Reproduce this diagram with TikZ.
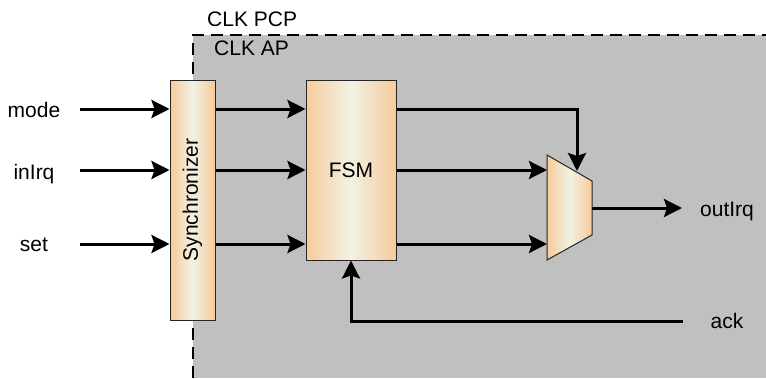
\documentclass[tikz,border=0pt]{standalone}
\usepackage{fontspec}
\setmainfont{Liberation Sans}
\usetikzlibrary{arrows.meta,calc}

\definecolor{peach}{RGB}{248,202,155}
\definecolor{cream}{RGB}{241,242,228}
\definecolor{panel}{RGB}{192,192,192}

\tikzset{
  lbl/.style={font=\fontsize{21}{25}\selectfont, inner sep=0pt},
  block/.style={draw=black!85, line width=1pt, left color=peach, right color=peach,
                middle color=cream, inner sep=0pt},
  wire/.style={line width=3pt, -{Stealth[length=18pt,width=18pt,inset=3pt]}},
  clkborder/.style={line width=2.5pt, dash pattern=on 12pt off 7pt},
}

\begin{document}
\begin{tikzpicture}[x=1pt,y=-1pt]
\useasboundingbox (0,0) rectangle (766,378);

% AP clock domain
\fill[panel] (193,35) rectangle (766,378);
\draw[clkborder] (193,378) -- (193,35) -- (766,35);
\node[lbl, anchor=base west] (pcp) at (207,26) {CLK PCP};
\node[lbl, anchor=base west] (ap) at (214,55) {CLK AP};

% signal rows
\coordinate (rowA) at (80,109);
\coordinate (rowB) at (80,170);
\coordinate (rowC) at (80,244);

% inputs
\node[lbl, anchor=base] (mode) at (34,117) {mode};
\node[lbl, anchor=base] (inirq) at (34,179) {inIrq};
\node[lbl, anchor=base] (set) at (34,251) {set};

% blocks
\node[block, minimum width=45pt, minimum height=240pt] (sync) at (192.5,200) {};
\node[lbl, rotate=90] (synctext) at (sync.center) {Synchronizer};
\node[block, lbl, draw=black!85, line width=1pt, minimum width=90pt, minimum height=180pt] (fsm) at (351,170) {FSM};

% multiplexer
\coordinate (mA) at (547,155);
\coordinate (mB) at (592,181);
\coordinate (mC) at (592,235);
\coordinate (mD) at (547,260);
\coordinate (mSel) at (577,171);
\coordinate (mOut) at (592,208);
\shade[left color=peach, right color=peach, middle color=cream]
  (mA) -- (mB) -- (mC) -- (mD) -- cycle;
\draw[black!85, line width=1pt] (mA) -- (mB) -- (mC) -- (mD) -- cycle;

% outputs
\node[lbl, anchor=base] (outirq) at (727,216) {outIrq};
\node[lbl, anchor=base] (ack) at (727,328) {ack};
\coordinate (outEnd) at (682,208);
\coordinate (ackIn) at (683,321);

% wires
\foreach \r in {rowA,rowB,rowC} {
  \draw[wire] (\r) -- (\r -| sync.west);
  \draw[wire] (\r -| sync.east) -- (\r -| fsm.west);
}
\draw[wire] (rowA -| fsm.east) -| (mSel);
\draw[wire] (rowB -| fsm.east) -- (rowB -| mA);
\draw[wire] (rowC -| fsm.east) -- (rowC -| mA);
\draw[wire] (mOut) -- (outEnd);
\draw[wire] (ackIn) -| (fsm.south);
\end{tikzpicture}
\end{document}
